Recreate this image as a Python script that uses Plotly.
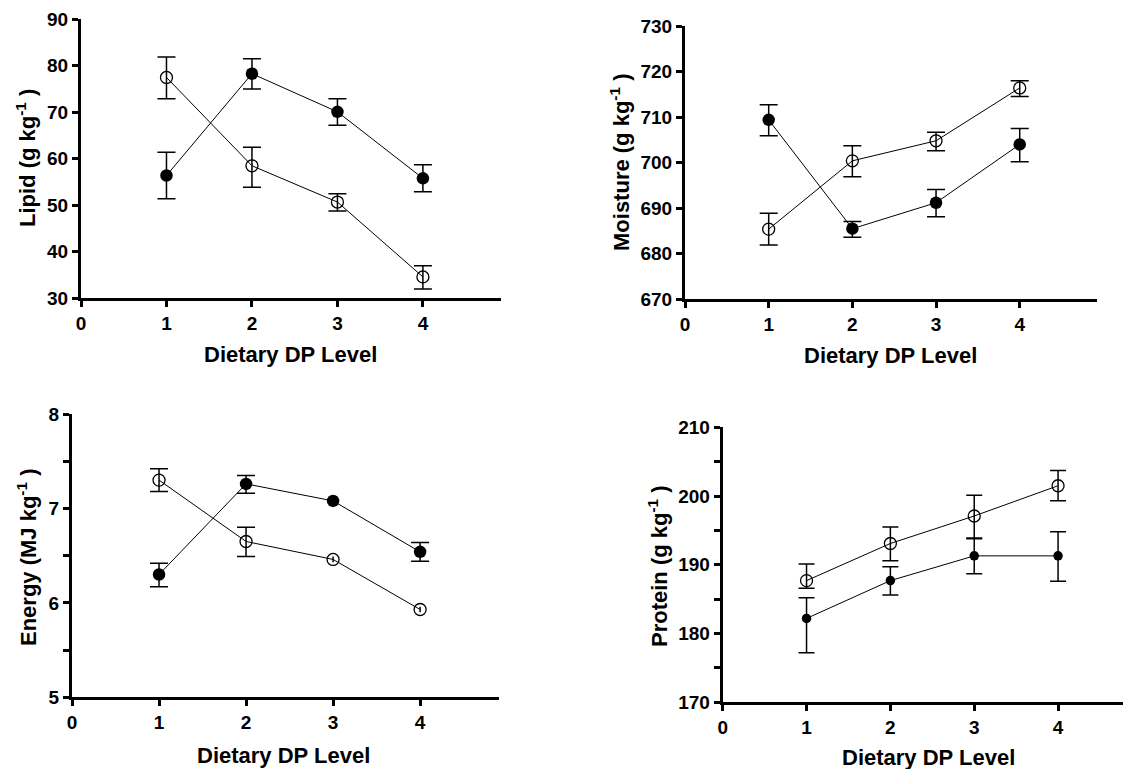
import plotly.graph_objects as go

# ---------------- data ----------------
levels = [1, 2, 3, 4]

lipid_filled = [56.4, 78.3, 70.1, 55.8]
lipid_filled_up = [5.0, 3.2, 2.8, 2.9]
lipid_filled_dn = [5.0, 3.3, 2.9, 2.9]
lipid_open = [77.5, 58.5, 50.7, 34.6]
lipid_open_up = [4.4, 4.0, 1.8, 2.4]
lipid_open_dn = [4.6, 4.6, 1.9, 2.6]

moist_filled = [709.4, 685.5, 691.2, 704.0]
moist_filled_up = [3.3, 1.6, 2.9, 3.5]
moist_filled_dn = [3.5, 1.9, 3.1, 3.8]
moist_open = [685.4, 700.4, 704.8, 716.4]
moist_open_up = [3.5, 3.3, 1.9, 1.6]
moist_open_dn = [3.5, 3.5, 2.2, 1.9]

energy_filled = [6.30, 7.26, 7.08, 6.54]
energy_filled_up = [0.12, 0.09, 0.02, 0.10]
energy_filled_dn = [0.13, 0.10, 0.02, 0.10]
energy_open = [7.30, 6.65, 6.46, 5.93]
energy_open_up = [0.12, 0.15, 0.03, 0.03]
energy_open_dn = [0.12, 0.16, 0.03, 0.03]

protein_filled = [182.2, 187.7, 191.3, 191.3]
protein_filled_up = [3.0, 2.0, 2.5, 3.5]
protein_filled_dn = [5.0, 2.1, 2.6, 3.7]
protein_open = [187.7, 193.1, 197.1, 201.5]
protein_open_up = [2.4, 2.4, 3.0, 2.2]
protein_open_dn = [1.1, 2.5, 3.2, 2.2]

x_ticks = [0, 1, 2, 3, 4]
lipid_ticks = [30, 40, 50, 60, 70, 80, 90]
moist_ticks = [670, 680, 690, 700, 710, 720, 730]
energy_ticks = [5, 6, 7, 8]
protein_ticks = [170, 180, 190, 200, 210]

x_title = "Dietary DP Level"
y_titles = ["Lipid (g kg<sup>-1</sup> )", "Moisture (g kg<sup>-1</sup> )",
            "Energy (MJ kg<sup>-1</sup> )", "Protein (g kg<sup>-1</sup> )"]

FONT = "Liberation Sans, Arial, sans-serif"

# The page places the figure 8 px from the top-left corner of the window,
# so the figure covers window pixels 8..1131 x 8..769.
OFF = 8.0
W = 1131.0 - OFF
H = 769.0 - OFF


def px_x(px):
    return (px - OFF) / W


def px_y(py):
    return (769.0 - py) / H


panels = [
    # x0, x1, y_top_px, y_bottom_px, yrange, yticks, minor dtick, xmax
    (81, 500.7, 19.3, 298.3, [30, 90], lipid_ticks, None, 4.91),
    (685, 1096.7, 26.0, 299.3, [670, 730], moist_ticks, None, 4.92),
    (72, 499.3, 414.0, 697.3, [5, 8], energy_ticks, 0.5, 4.91),
    (722.7, 1131, 427.3, 702.3, [170, 210], protein_ticks, 5, 4.87),
]

fig = go.Figure()


def add_series(n, yvals, up, dn, filled, msize, capw):
    xa = "x" if n == 1 else f"x{n}"
    ya = "y" if n == 1 else f"y{n}"
    _, _, yt, yb, yr, _, _, _ = panels[n - 1]
    px_per_unit = (yb - yt) / (yr[1] - yr[0])
    # error bars shorter than the symbol radius are drawn without caps
    big = [i for i in range(len(levels)) if max(up[i], dn[i]) * px_per_unit >= 5]
    small = [i for i in range(len(levels)) if i not in big]
    for idx, w in ((big, capw), (small, 0)):
        if not idx:
            continue
        fig.add_trace(go.Scatter(
            x=[levels[i] for i in idx], y=[yvals[i] for i in idx],
            xaxis=xa, yaxis=ya, mode="markers",
            marker=dict(size=1, color="rgba(0,0,0,0)"),
            error_y=dict(type="data", symmetric=False,
                         array=[up[i] for i in idx], arrayminus=[dn[i] for i in idx],
                         color="black", thickness=1.5, width=w),
            showlegend=False, hoverinfo="skip", cliponaxis=False))
    if filled:
        marker = dict(symbol="circle", size=msize, color="black")
    else:
        marker = dict(symbol="circle-open", size=msize, color="black",
                      line=dict(width=1.3, color="black"))
    fig.add_trace(go.Scatter(
        x=levels, y=yvals, xaxis=xa, yaxis=ya, mode="lines+markers",
        line=dict(color="black", width=1), marker=marker,
        showlegend=False, cliponaxis=False))


add_series(1, lipid_filled, lipid_filled_up, lipid_filled_dn, True, 12.5, 9)
add_series(1, lipid_open, lipid_open_up, lipid_open_dn, False, 12, 9)
add_series(2, moist_filled, moist_filled_up, moist_filled_dn, True, 12.5, 9)
add_series(2, moist_open, moist_open_up, moist_open_dn, False, 12, 9)
add_series(3, energy_filled, energy_filled_up, energy_filled_dn, True, 12.5, 9)
add_series(3, energy_open, energy_open_up, energy_open_dn, False, 12, 9)
add_series(4, protein_filled, protein_filled_up, protein_filled_dn, True, 9.5, 8)
add_series(4, protein_open, protein_open_up, protein_open_dn, False, 12, 8)

axis_common = dict(
    showline=True, linecolor="black", linewidth=3, mirror=False,
    ticks="outside", ticklen=6, tickwidth=3, tickcolor="black",
    showgrid=False, zeroline=False, automargin=False,
    tickfont=dict(family=FONT, size=19, color="black", weight="bold"),
)

layout = dict(
    template="none",
    width=int(W), height=int(H),
    margin=dict(l=0, r=0, t=0, b=0, pad=0, autoexpand=False),
    paper_bgcolor="white", plot_bgcolor="white", showlegend=False,
)

for i, (x0, x1, yt, yb, yr, yt_vals, minor_dt, xmax) in enumerate(panels, start=1):
    sfx = "" if i == 1 else str(i)
    layout["xaxis" + sfx] = dict(
        axis_common, domain=[px_x(x0), min(px_x(x1), 1.0)], range=[0, xmax],
        tickmode="array", tickvals=x_ticks, ticktext=[str(v) for v in x_ticks],
        anchor="y" + sfx)
    yax = dict(
        axis_common, domain=[px_y(yb), min(px_y(yt), 1.0)], range=yr,
        tickmode="array", tickvals=yt_vals, ticktext=[str(v) for v in yt_vals],
        anchor="x" + sfx)
    if minor_dt is not None:
        yax["minor"] = dict(dtick=minor_dt, tick0=yr[0], ticks="outside", ticklen=6,
                            tickwidth=3, tickcolor="black", showgrid=False)
    layout["yaxis" + sfx] = yax

fig.update_layout(**layout)

title_font = dict(family=FONT, size=22, color="black", weight="bold")
# (x_title_center, y_title_center, ytitle_x, ytitle_y) in window pixels
title_pos = [
    (290, 354, 26, 158),
    (890, 355, 620, 163),
    (283, 755, 27, 557),
    (928, 757, 658, 566),
]
for i, (xtx, xty, ytx, yty) in enumerate(title_pos):
    fig.add_annotation(text=x_title, xref="paper", yref="paper",
                       x=px_x(xtx), y=px_y(xty), showarrow=False,
                       xanchor="center", yanchor="middle", font=title_font)
    fig.add_annotation(text=y_titles[i], xref="paper", yref="paper",
                       x=px_x(ytx), y=px_y(yty), showarrow=False, textangle=-90,
                       xanchor="center", yanchor="middle", font=title_font)

fig.write_html("out.html")
